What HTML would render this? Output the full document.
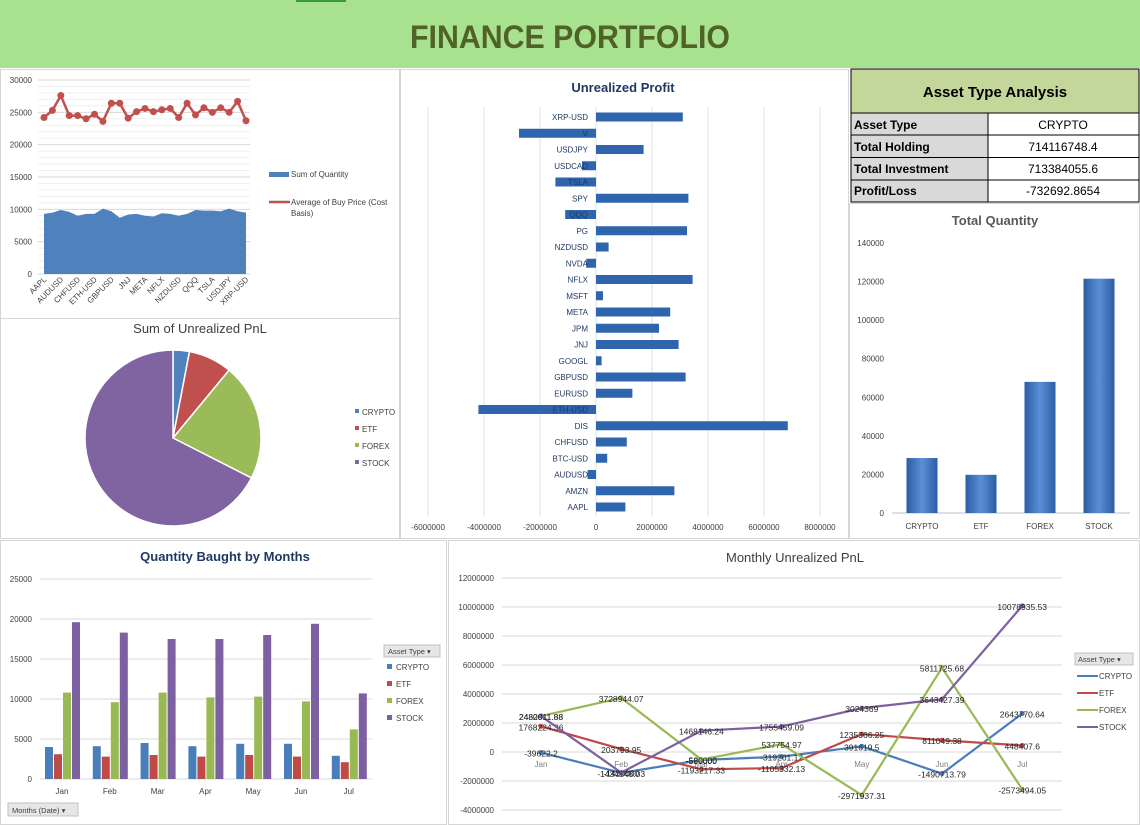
<!DOCTYPE html>
<html><head><meta charset="utf-8">
<style>
body{margin:0;background:#fff;font-family:"Liberation Sans",sans-serif;}
#root{position:relative;width:1140px;height:825px;overflow:hidden;background:#fff;}
svg text{font-family:"Liberation Sans",sans-serif;}
</style></head>
<body>
<div id="root">
<svg id="svg" width="1140" height="825" viewBox="0 0 1140 825" xmlns="http://www.w3.org/2000/svg">
<rect x="0" y="0" width="1140" height="825" fill="#ffffff"/>
<rect x="0" y="0" width="1140" height="68" fill="#a9e28f"/>
<rect x="296" y="0" width="50" height="2" fill="#3a9a3a"/>
<text x="570" y="48" text-anchor="middle" font-size="32" font-weight="bold" fill="#4f6228" textLength="320" lengthAdjust="spacingAndGlyphs">FINANCE PORTFOLIO</text>
<g stroke="#d6d6d6" fill="none">
<rect x="0.5" y="69.5" width="399" height="249"/>
<rect x="0.5" y="318.5" width="399" height="220"/>
<rect x="400.5" y="69.5" width="448" height="469"/>
<rect x="849.5" y="203.5" width="290" height="335"/>
<rect x="0.5" y="540.5" width="446" height="284"/>
<rect x="448.5" y="540.5" width="691" height="284"/>
</g>
<g>
<rect x="851" y="69" width="288" height="44" fill="#c4d79b" stroke="#000" stroke-width="1"/>
<text x="995" y="97" text-anchor="middle" font-size="15" font-weight="bold" fill="#000">Asset Type Analysis</text>
<rect x="851" y="113" width="137" height="89" fill="#d9d9d9" stroke="#000"/>
<rect x="988" y="113" width="151" height="89" fill="#fff" stroke="#000"/>
<line x1="851" y1="135" x2="1139" y2="135" stroke="#000"/>
<line x1="851" y1="157.5" x2="1139" y2="157.5" stroke="#000"/>
<line x1="851" y1="180" x2="1139" y2="180" stroke="#000"/>
<g font-size="12" font-weight="bold" fill="#000">
<text x="854" y="129">Asset Type</text><text x="854" y="151">Total Holding</text>
<text x="854" y="173">Total Investment</text><text x="854" y="195">Profit/Loss</text></g>
<g font-size="12" fill="#000" text-anchor="middle">
<text x="1063" y="129">CRYPTO</text><text x="1063" y="151">714116748.4</text>
<text x="1063" y="173">713384055.6</text><text x="1063" y="195">-732692.8654</text></g>
</g>
<g id="dyn"></g>
</svg>
</div>
<script>
const tickers = ["AAPL","AMZN","AUDUSD","BTC-USD","CHFUSD","DIS","ETH-USD","EURUSD","GBPUSD","GOOGL","JNJ","JPM","META","MSFT","NFLX","NVDA","NZDUSD","PG","QQQ","SPY","TSLA","USDCAD","USDJPY","V","XRP-USD"];
const sumQuantity = [9300,9500,9900,9600,9000,9300,9300,10100,9700,8700,9200,9300,9000,8900,9400,9300,9000,9300,9900,9800,9800,9700,10100,9700,9500];
const avgBuyPrice = [24200,25300,27600,24500,24500,24000,24700,23600,26400,26400,24100,25100,25600,25100,25400,25600,24200,26400,24600,25700,25000,25700,25000,26700,23700];
const qtyTicks = [0,5000,10000,15000,20000,25000,30000];
const assetTypes = ["CRYPTO","ETF","FOREX","STOCK"];
const pnlShare = [3,8,21.5,67.5];
const profitValues = [1050000,2800000,-300000,400000,1100000,6850000,-4200000,1300000,3200000,200000,2950000,2250000,2650000,250000,3450000,-350000,450000,3250000,-1100000,3300000,-1450000,-500000,1700000,-2750000,3100000];
const profitTicks = [-6000000,-4000000,-2000000,0,2000000,4000000,6000000,8000000];
const totalQuantity = [28500,19800,68000,121500];
const totalQtyTicks = [0,20000,40000,60000,80000,100000,120000,140000];
const months = ["Jan","Feb","Mar","Apr","May","Jun","Jul"];
const monthQtyCrypto = [4000,4100,4500,4100,4400,4400,2900];
const monthQtyEtf = [3100,2800,3000,2800,3000,2800,2100];
const monthQtyForex = [10800,9600,10800,10200,10300,9700,6200];
const monthQtyStock = [19600,18300,17500,17500,18000,19400,10700];
const monthQtyTicks = [0,5000,10000,15000,20000,25000];
const pnlCrypto = [-39622.2,-1434848.03,-550000,-319201.12,391619.5,-1490713.79,2643770.64];
const pnlEtf = [1768224.36,203793.95,-1193217.33,-1105332.13,1235366.25,811049.38,448407.6];
const pnlForex = [2482011.88,3728944.07,-520000,537754.97,-2971937.31,5811725.68,-2573494.05];
const pnlStock = [2480011.88,-1420000,1468146.24,1755459.09,3024369,3643427.39,10078935.53];
const pnlTicks = [-4000000,-2000000,0,2000000,4000000,6000000,8000000,10000000,12000000];
const colors = ["#4a7ebb","#be4b48","#98b954","#7d60a0"];

const NS="http://www.w3.org/2000/svg";
const dyn=document.getElementById("dyn");
function mk(tag,attrs,parent){const e=document.createElementNS(NS,tag);for(const k in attrs)e.setAttribute(k,attrs[k]);(parent||dyn).appendChild(e);return e;}
function txt(x,y,s,size,fill,anchor,extra){const e=mk("text",Object.assign({x:x,y:y,"font-size":size,fill:fill,"text-anchor":anchor||"start"},extra||{}));e.textContent=s;return e;}
function lin(a,b,c,d){return (v)=>c+(v-a)*(d-c)/(b-a);}
let el;

{
 const y=lin(0,30000,274,80), x0=44, x1=246, n=tickers.length;
 const x=(i)=>x0+i*(x1-x0)/(n-1);
 for(let t=1000;t<30000;t+=1000){if(t%5000===0)continue;
  el=mk("line",{x1:38,x2:250,y1:y(t),y2:y(t),stroke:"#efefef"});
  }
 qtyTicks.forEach(t=>{el=mk("line",{x1:38,x2:250,y1:y(t),y2:y(t),stroke:"#d9d9d9"});
 
 el=txt(32,y(t)+3,String(t),8,"#404040","end");
 });
 let d="M"+x(0)+","+y(0);sumQuantity.forEach((v,i)=>d+=" L"+x(i)+","+y(v));d+=" L"+x(n-1)+","+y(0)+"Z";
 el=mk("path",{d:d,fill:"#4f81bd"});
 
 let p="";avgBuyPrice.forEach((v,i)=>p+=(i?" L":"M")+x(i)+","+y(v));
 el=mk("path",{d:p,fill:"none",stroke:"#c0504d","stroke-width":2.5});
 
 avgBuyPrice.forEach((v,i)=>{el=mk("circle",{cx:x(i),cy:y(v),r:3.5,fill:"#c0504d"});
 });
 tickers.forEach((t,i)=>{if(i%2)return;el=txt(x(i)+3,280,t,8,"#404040","end",{transform:"rotate(-45 "+(x(i)+3)+" 280)"});
 });
 el=mk("rect",{x:269,y:172,width:20,height:5,fill:"#4f81bd"});
 
 el=txt(291,177,"Sum of Quantity",8,"#404040");
 
 el=mk("line",{x1:269,x2:290,y1:202,y2:202,stroke:"#c0504d","stroke-width":2.5});
 
 el=txt(291,205,"Average of Buy Price (Cost",8,"#404040");
 
 el=txt(291,216,"Basis)",8,"#404040");
 
}
{
 el=txt(200,333,"Sum of Unrealized PnL",13,"#404040","middle");
 
 const cx=173,cy=438,r=88,tot=pnlShare.reduce((a,b)=>a+b,0);
 const pc=["#4f81bd","#c0504d","#9bbb59","#8064a2"];
 let a0=-Math.PI/2;
 pnlShare.forEach((v,i)=>{const a1=a0+v/tot*2*Math.PI;
  const large=(a1-a0)>Math.PI?1:0;
  const d="M"+cx+","+cy+" L"+(cx+r*Math.cos(a0))+","+(cy+r*Math.sin(a0))+" A"+r+","+r+" 0 "+large+" 1 "+(cx+r*Math.cos(a1))+","+(cy+r*Math.sin(a1))+"Z";
  el=mk("path",{d:d,fill:pc[i],stroke:"#fff","stroke-width":1.5});
  
  a0=a1;
  el=mk("rect",{x:355,y:409+i*17,width:4,height:4,fill:pc[i]});
  
  el=txt(362,415+i*17,assetTypes[i],8,"#404040");
  });
}
{
 el=txt(623,92,"Unrealized Profit",13,"#1f3864","middle",{"font-weight":"bold"});
 
 const x=lin(0,2000000,596,652);
 profitTicks.forEach(t=>{el=mk("line",{x1:x(t),x2:x(t),y1:107,y2:516,stroke:"#d5e3ea"});
 
 el=txt(x(t),530,String(t),8,"#404040","middle");
 });
 const n=tickers.length,top=117,step=(507-117)/(n-1);
 tickers.forEach((t,i)=>{const yc=top+(n-1-i)*step,v=profitValues[i];
  el=mk("rect",{x:Math.min(x(0),x(v)),y:yc-4.5,width:Math.abs(x(v)-x(0)),height:9,fill:"#2e65ad"});
  
  el=txt(588,yc+3,t,8,"#1f3864","end");
  });
}
{
 el=txt(995,225,"Total Quantity",13,"#595959","middle",{"font-weight":"bold"});
 
 const y=lin(0,140000,513,243);
 totalQtyTicks.forEach(t=>{el=txt(884,y(t)+3,String(t),8,"#404040","end");
 });
 el=mk("line",{x1:892,x2:1130,y1:513,y2:513,stroke:"#bfbfbf"});
 
 const gr=mk("linearGradient",{id:"bg",x1:0,x2:1,y1:0,y2:0});
 mk("stop",{offset:"0",  "stop-color":"#2b5da3"},gr);mk("stop",{offset:"0.5","stop-color":"#5a8fd6"},gr);mk("stop",{offset:"1","stop-color":"#2b5da3"},gr);
 assetTypes.forEach((a,i)=>{const xc=922+i*59;
  el=mk("rect",{x:xc-15.5,y:y(totalQuantity[i]),width:31,height:y(0)-y(totalQuantity[i]),fill:"url(#bg)"});
  
  el=txt(xc,529,a,8,"#404040","middle");
  });
}
{
 el=txt(225,561,"Quantity Baught by Months",13,"#1f3864","middle",{"font-weight":"bold"});
 
 const y=lin(0,25000,779,579);
 monthQtyTicks.forEach(t=>{el=mk("line",{x1:40,x2:372,y1:y(t),y2:y(t),stroke:"#d9d9d9"});
 
 el=txt(32,y(t)+3,String(t),8,"#404040","end");
 });
 const series=[monthQtyCrypto,monthQtyEtf,monthQtyForex,monthQtyStock];
 months.forEach((m,i)=>{const xc=62+i*47.8;
  series.forEach((s,k)=>{el=mk("rect",{x:xc-17+k*9,y:y(s[i]),width:8,height:y(0)-y(s[i]),fill:colors[k]});
   });
  el=txt(xc,794,m,8,"#404040","middle");
  });
 el=mk("rect",{x:384,y:645,width:56,height:12,fill:"#e6e6e6",stroke:"#c0c0c0"});
 
 el=txt(388,654,"Asset Type ▾",7.5,"#404040");
 
 assetTypes.forEach((a,k)=>{el=mk("rect",{x:387,y:664+k*17,width:5,height:5,fill:colors[k]});
  
  el=txt(396,670+k*17,a,8,"#404040");
  });
 el=mk("rect",{x:8,y:803,width:70,height:13,fill:"#e6e6e6",stroke:"#c0c0c0"});
 
 el=txt(12,813,"Months (Date) ▾",7.5,"#404040");
 
}
{
 el=txt(795,562,"Monthly Unrealized PnL",13,"#404040","middle");
 
 const y=lin(0,2000000,752,723);
 const x=(i)=>541+i*80.2;
 pnlTicks.forEach(t=>{el=mk("line",{x1:502,x2:1062,y1:y(t),y2:y(t),stroke:"#d9d9d9"});
 
 el=txt(494,y(t)+3,String(t),8,"#404040","end");
 });
 months.forEach((m,i)=>{el=txt(x(i),767,m,8,"#7f7f7f","middle");
 });
 const series=[pnlCrypto,pnlEtf,pnlForex,pnlStock];
 series.forEach((s,k)=>{let d="";s.forEach((v,i)=>d+=(i?" L":"M")+x(i)+","+y(v));
  el=mk("path",{d:d,fill:"none",stroke:colors[k],"stroke-width":2.2});
  
  s.forEach((v,i)=>{el=mk("circle",{cx:x(i),cy:y(v),r:2.5,fill:colors[k]});
   
   el=txt(x(i),y(v)+4,String(v),8.5,"#262626","middle");
   });});
 el=mk("rect",{x:1075,y:653,width:58,height:12,fill:"#e6e6e6",stroke:"#c0c0c0"});
 
 el=txt(1078,662,"Asset Type ▾",7.5,"#404040");
 
 assetTypes.forEach((a,k)=>{el=mk("line",{x1:1077,x2:1098,y1:676+k*17,y2:676+k*17,stroke:colors[k],"stroke-width":2});
  
  el=txt(1099,679+k*17,a,8,"#404040");
  });
}
</script>
</body></html>
